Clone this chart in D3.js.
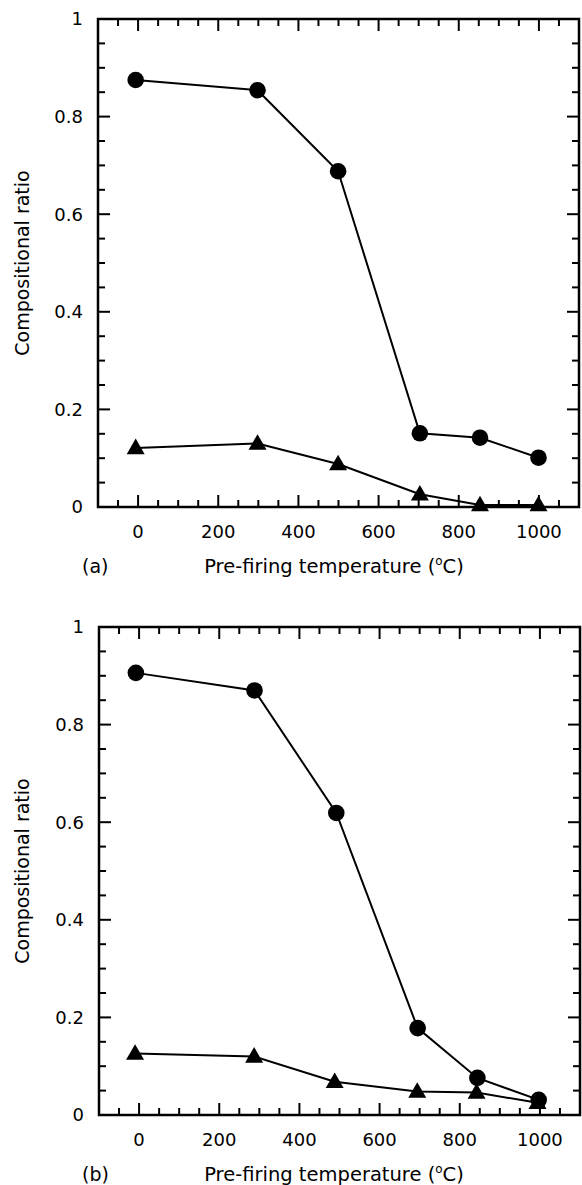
<!DOCTYPE html>
<html>
<head>
<meta charset="utf-8">
<script src="https://cdn.jsdelivr.net/npm/d3@7"></script>
<style>
  body { margin: 0; background: #fff; }
  svg text { font-family: "DejaVu Sans", sans-serif; fill: #000; }
</style>
</head>
<body>
<script>
// data
const tempA = [-6, 298, 499, 703, 853, 999];
const circlesA = [0.875, 0.854, 0.688, 0.151, 0.142, 0.101];
const trianglesA = [0.121, 0.130, 0.088, 0.026, 0.004, 0.004];

const tempCircB = [-8, 288, 492, 695, 844, 997];
const circlesB = [0.906, 0.870, 0.619, 0.178, 0.076, 0.031];
const tempTriB = [-10, 287, 488, 694, 842, 994];
const trianglesB = [0.126, 0.120, 0.068, 0.048, 0.046, 0.025];

const xMajor = [0, 200, 400, 600, 800, 1000];
const xMinor = [-50, 50, 100, 150, 250, 300, 350, 450, 500, 550, 650, 700, 750, 850, 900, 950, 1050];
const yMajor = [0, 0.2, 0.4, 0.6, 0.8, 1];
const yMinor = [0.05, 0.1, 0.15, 0.25, 0.3, 0.35, 0.45, 0.5, 0.55, 0.65, 0.7, 0.75, 0.85, 0.9, 0.95];
const panelLabels = ["(a)", "(b)"];

const svg = d3.select("body").append("svg")
  .attr("width", 582)
  .attr("height", 1185);

const fmtY = d => d === 0 ? "0" : d === 1 ? "1" : d3.format(".1f")(d);

function drawPanel(p) {
  const x = d3.scaleLinear().domain([-100, 1100]).range(p.xr);
  const y = d3.scaleLinear().domain([0, 1]).range(p.yr);
  const g = svg.append("g");
  const x0 = p.xr[0], x1 = p.xr[1], yb = p.yr[0], yt = p.yr[1];

  // x ticks, bottom and top, pointing inward
  const xt = xMajor.map(v => [v, 12]).concat(xMinor.map(v => [v, 7]));
  [[yb, -1], [yt, 1]].forEach(function(side) {
    g.selectAll(null).data(xt).enter().append("line")
      .attr("x1", d => x(d[0])).attr("x2", d => x(d[0]))
      .attr("y1", side[0]).attr("y2", d => side[0] + side[1] * d[1])
      .attr("stroke", "#000").attr("stroke-width", 2);
  });
  // y ticks, left and right
  const ytk = yMajor.map(v => [v, 12]).concat(yMinor.map(v => [v, 7]));
  [[x0, 1], [x1, -1]].forEach(function(side) {
    g.selectAll(null).data(ytk).enter().append("line")
      .attr("y1", d => y(d[0])).attr("y2", d => y(d[0]))
      .attr("x1", side[0]).attr("x2", d => side[0] + side[1] * d[1])
      .attr("stroke", "#000").attr("stroke-width", 2);
  });

  // tick labels
  g.selectAll(null).data(xMajor).enter().append("text")
    .attr("x", d => x(d)).attr("y", yb + 31)
    .attr("text-anchor", "middle").style("font-size", "18px")
    .text(d => d);
  g.selectAll(null).data(yMajor).enter().append("text")
    .attr("x", x0 - 15).attr("y", d => y(d)).attr("dy", "0.36em")
    .attr("text-anchor", "end").style("font-size", "18px")
    .text(fmtY);

  // frame
  g.append("rect")
    .attr("x", x0).attr("y", yt)
    .attr("width", x1 - x0).attr("height", yb - yt)
    .attr("fill", "none").attr("stroke", "#000").attr("stroke-width", 2.5);

  const line = d3.line().x(d => x(d[0])).y(d => y(d[1]));
  const circ = d3.zip(p.tc, p.c);
  const tri = d3.zip(p.tt, p.t);

  [circ, tri].forEach(function(pts) {
    g.append("path").datum(pts)
      .attr("d", line)
      .attr("fill", "none").attr("stroke", "#000").attr("stroke-width", 2);
  });

  g.selectAll(null).data(circ).enter().append("circle")
    .attr("cx", d => x(d[0])).attr("cy", d => y(d[1]))
    .attr("r", 8.3).attr("fill", "#000");

  const triSym = d3.symbol().type(d3.symbolTriangle).size(140);
  g.selectAll(null).data(tri).enter().append("path")
    .attr("d", triSym)
    .attr("transform", d => "translate(" + x(d[0]) + "," + (y(d[1]) + 1) + ")")
    .attr("fill", "#000");

  // axis titles
  const xl = g.append("text")
    .attr("x", 334).attr("y", yb + 66)
    .attr("text-anchor", "middle").style("font-size", "19.5px")
    .text("Pre-firing temperature (");
  xl.append("tspan").attr("dy", -8).style("font-size", "12px").text("o");
  xl.append("tspan").attr("dy", 8).text("C)");

  g.append("text")
    .attr("x", 82).attr("y", yb + 66)
    .style("font-size", "19px")
    .text(p.label);

  g.append("text")
    .attr("transform", "translate(29," + ((yb + yt) / 2) + ") rotate(-90)")
    .attr("text-anchor", "middle").style("font-size", "19px")
    .text("Compositional ratio");
}

drawPanel({ xr: [98, 579], yr: [507, 19], tc: tempA, c: circlesA, tt: tempA, t: trianglesA, label: panelLabels[0] });
drawPanel({ xr: [99, 580], yr: [1115, 627], tc: tempCircB, c: circlesB, tt: tempTriB, t: trianglesB, label: panelLabels[1] });
</script>
</body>
</html>
